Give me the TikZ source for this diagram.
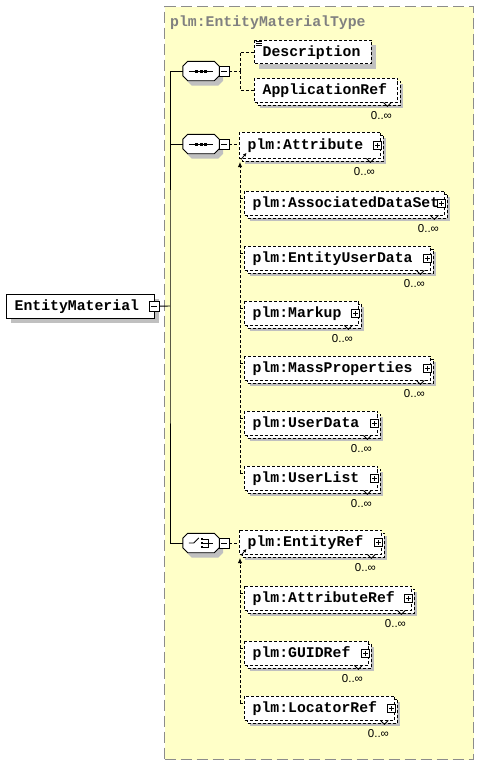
\documentclass[tikz,border=0pt]{standalone}
\usepackage{fontspec}
\newfontfamily\monofnt{Liberation Mono}
\newfontfamily\occfnt{Liberation Sans}
\usetikzlibrary{arrows.meta,calc}
\definecolor{bgyellow}{RGB}{255,255,200}
\definecolor{shadowc}{RGB}{192,192,192}
\definecolor{titlegray}{RGB}{128,128,128}
\definecolor{bordergray}{RGB}{140,140,140}
\tikzset{
  elemline/.style={draw=black, line width=0.9pt, dash pattern=on 3pt off 2pt, fill=white},
  boxn/.style={inner sep=0pt, anchor=north west, draw=none},
  etext/.style={font={\monofnt\bfseries\fontsize{14.8}{16}\selectfont}, inner sep=0pt, anchor=base west},
  occ/.style={font={\occfnt\fontsize{11.5}{13}\selectfont}, inner sep=0pt},
  conn/.style={line width=0.9pt, dash pattern=on 3pt off 2pt},
  solidline/.style={line width=0.9pt},
  plusbox/.style={draw, solid, line width=0.8pt, fill=white, minimum size=8pt, inner sep=0pt,
    path picture={\draw[line width=0.8pt] ([yshift=-1.7pt]path picture bounding box.north) -- ([yshift=1.7pt]path picture bounding box.south);
                  \draw[line width=0.8pt] ([xshift=1.7pt]path picture bounding box.west) -- ([xshift=-1.7pt]path picture bounding box.east);}},
  minusbox/.style={draw, solid, line width=0.8pt, fill=white, minimum size=10pt, inner sep=0pt,
    path picture={\draw[line width=0.8pt] ([xshift=2pt]path picture bounding box.west) -- ([xshift=-2pt]path picture bounding box.east);}},
  octnode/.style={inner sep=0pt, draw=none, anchor=center, minimum width=36pt, minimum height=19pt},
  tipline/.style={line width=0.8pt, -{Latex[length=3.5pt,width=3.5pt]}},
}
\newcommand\elbox[6]{%
  \node[boxn, minimum width={#4-#2}, minimum height={#5-#3}] (#1) at (#2,#3) {};
  \fill[shadowc] ([shift={(5pt,-5pt)}]#1.north west) rectangle ([shift={(5pt,-5pt)}]#1.south east);
  \path[elemline] (#1.north west) rectangle (#1.south east);
  \node[etext] (#1-t) at ([shift={(8.5pt,-4.25pt)}]#1.west) {#6};}
\newcommand\elmulti[6]{%
  \node[boxn, minimum width={#4-#2}, minimum height={#5-#3}] (#1) at (#2,#3) {};
  \fill[shadowc] ([shift={(6pt,-6pt)}]#1.north west) rectangle ([shift={(6pt,-6pt)}]#1.south east);
  \path[elemline] ([shift={(3pt,-3pt)}]#1.north west) rectangle ([shift={(3pt,-3pt)}]#1.south east);
  \path[elemline] (#1.north west) rectangle (#1.south east);
  \node[etext] (#1-t) at ([shift={(8.5pt,-4.25pt)}]#1.west) {#6};
  \draw[line width=0.8pt] ([xshift=-14pt]#1.south east) -- ++(4,4) -- ++(4,-4);
  \node[occ] (#1-o) at ([shift={(-16pt,-13pt)}]#1.south east) {0..∞};}
\newcommand\pluson[1]{\node[plusbox] (#1-p) at ([xshift=-3pt]#1.east) {};}
\newcommand\octpath[2]{\path[#2] ([xshift=5pt]#1.north west) -- ([xshift=-5pt]#1.north east) -- ([yshift=-5pt]#1.north east) -- ([yshift=5pt]#1.south east) -- ([xshift=-5pt]#1.south east) -- ([xshift=5pt]#1.south west) -- ([yshift=5pt]#1.south west) -- ([yshift=-5pt]#1.north west) -- cycle;}
\newcommand\member[1]{\draw[conn] ([xshift=-4pt,yshift=-7pt]#1.north west) -- ([yshift=-7pt]#1.north west);}
\begin{document}
\begin{tikzpicture}[x=1pt,y=-1pt]
\useasboundingbox (0,0) rectangle (479,766);
% complex type background
\node[boxn, draw=bordergray, fill=bgyellow, line width=1.3pt, dash pattern=on 11pt off 5pt,
      minimum width=309, minimum height=753] (ctype) at (164,6) {};
\node[etext, text=titlegray] (ctitle) at (170,26) {plm:EntityMaterialType};

% root element
\node[boxn, minimum width=148, minimum height=24] (em) at (6,294) {};
\fill[shadowc] ([shift={(5pt,-5pt)}]em.north west) rectangle ([shift={(5pt,-5pt)}]em.south east);
\path[draw, solidline, fill=white] (em.north west) rectangle (em.south east);
\node[etext] (em-t) at ([shift={(8.5pt,-4.25pt)}]em.west) {EntityMaterial};
\node[minusbox] (em-m) at ([xshift=-0.5pt]em.east) {};

% compositors
\foreach \n/\yy in {s1/71, s2/144, s3/543} {
  \node[octnode] (\n) at (201,\yy) {};
  \octpath{\n}{fill=shadowc, transform canvas={shift={(4pt,-5pt)}}}
  \octpath{\n}{draw, solidline, fill=white}
  \node[minusbox] (\n-m) at (224,\yy) {};
}
% sequence icons
\foreach \n in {s1,s2} {
  \draw[line width=0.8pt] ([xshift=6pt]\n.west) -- ([xshift=-6pt]\n.east);
  \foreach \dx in {-4.5,0,4.5} \fill ([xshift=\dx pt]\n.center) +(-1.5pt,-1.5pt) rectangle +(1.5pt,1.5pt);
}
% choice icon
\draw[line width=0.8pt] ([xshift=6pt]s3.west) -- ++(5,0) -- ++(5,-5);
\foreach \dy in {-4,0,4} \fill ([shift={(1pt,-\dy pt)}]s3.center) +(-1.3pt,-1.3pt) rectangle +(1.3pt,1.3pt);
\draw[line width=0.8pt] ([shift={(2pt,4pt)}]s3.center) -- ++(5,0) -- ++(0,8) -- ++(-5,0);
\draw[line width=0.8pt] ([shift={(2pt,0pt)}]s3.center) -- ++(10,0);

% main connectors
\coordinate (hub) at (170,306);
\draw[solidline] (em-m.east) -- (hub);
\draw[solidline] (s1.west) -| (hub) |- (s3.west);
\draw[solidline] (s2.west) -- (s2.west -| hub);

% sequence 1
\elbox{desc}{254}{40}{371}{63.5}{Description}
\foreach \dy in {1,3.2,5.4} \draw[line width=0.8pt] ([shift={(1.5pt,-\dy pt)}]desc.north west) -- ++(6,0);
\elmulti{appref}{254}{78}{397}{102}{ApplicationRef}
\coordinate (s1-j) at (240,71);
\draw[conn] (s1-m.east) -- (s1-j);
\draw[conn] (s1-j) |- (desc.west);
\draw[conn] (s1-j) |- (appref.west);

% sequence 2 : substitution group of plm:Attribute
\elmulti{attr}{239}{132}{380}{158}{plm:Attribute}\pluson{attr}
\elmulti{ads}{244}{191}{444}{215}{plm:AssociatedDataSet}\pluson{ads}
\elmulti{eud}{244}{246}{430}{270}{plm:EntityUserData}\pluson{eud}
\elmulti{markup}{244}{301}{358}{325}{plm:Markup}\pluson{markup}
\elmulti{mass}{244}{356}{430}{380}{plm:MassProperties}\pluson{mass}
\elmulti{udata}{244}{411}{377}{435}{plm:UserData}\pluson{udata}
\elmulti{ulist}{244}{466}{377}{490}{plm:UserList}\pluson{ulist}
\draw[conn] (s2-m.east) -- (s2-m.east -| attr.west);
\coordinate (s2-tip) at (240,162);
\draw[conn, -{Latex[length=5pt,width=4.5pt]}] ([xshift=-4pt,yshift=-7pt]ulist.north west) -- (s2-tip);
\foreach \m in {ads,eud,markup,mass,udata,ulist} {\member{\m}}
\draw[tipline] ([shift={(2pt,-1pt)}]attr.south west) -- ([shift={(7.5pt,5.5pt)}]attr.south west);

% choice : substitution group of plm:EntityRef
\elmulti{eref}{239}{530}{381}{554}{plm:EntityRef}\pluson{eref}
\elmulti{aref}{244}{586}{411}{610}{plm:AttributeRef}\pluson{aref}
\elmulti{guid}{244}{641}{368}{665}{plm:GUIDRef}\pluson{guid}
\elmulti{loc}{244}{696}{394}{720}{plm:LocatorRef}\pluson{loc}
\draw[conn] (s3-m.east) -- (s3-m.east -| eref.west);
\coordinate (s3-tip) at (240,558);
\draw[conn, -{Latex[length=5pt,width=4.5pt]}] ([xshift=-4pt,yshift=-7pt]loc.north west) -- (s3-tip);
\foreach \m in {aref,guid,loc} {\member{\m}}
\draw[tipline] ([shift={(2pt,-1pt)}]eref.south west) -- ([shift={(7.5pt,5.5pt)}]eref.south west);
\end{tikzpicture}
\end{document}
